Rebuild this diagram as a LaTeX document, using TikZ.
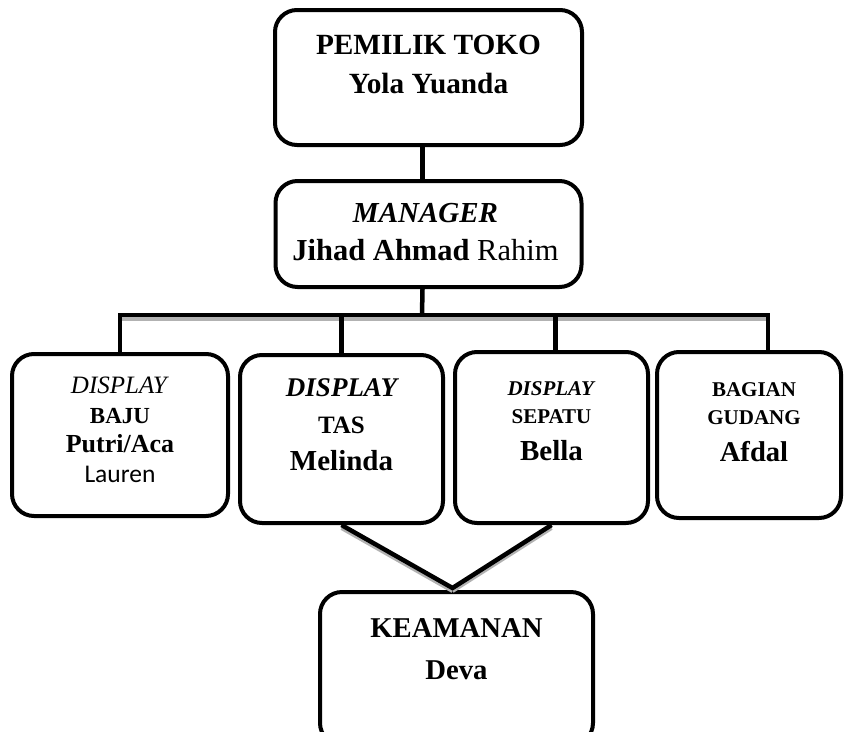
\documentclass[tikz,border=0pt]{standalone}
\usepackage{fontspec}
\setmainfont{Liberation Serif}
\newfontfamily\calibri{Carlito}
\usetikzlibrary{positioning}
\tikzstyle{jabatan}=[
	rectangle,
	rounded corners=22pt,
	line width=4pt,
	draw=black,
	fill=white
]
\tikzstyle{teks}=[
	inner sep=0pt,
	align=center,
	text=black
]
\tikzstyle{garis}=[
	line width=4.5pt,
	draw=black
]
\tikzstyle{bayang}=[
	line width=4pt,
	draw=gray!60
]
\newcommand{\uk}[1]{\fontsize{#1}{#1}\selectfont}

\begin{document}
\begin{tikzpicture}[x=1pt,y=-1pt]
\useasboundingbox[fill=white] (0,0) rectangle (845,731);
% kotak jabatan
\node [jabatan, minimum width=307pt, minimum height=135pt] (pemilik) at (428.5,77.5) {};
\node [jabatan, minimum width=306pt, minimum height=106pt] (manager)[below=32pt of pemilik] {};
\node [jabatan, minimum width=216pt, minimum height=162pt] (baju) at (120,435) {};
\node [jabatan, minimum width=203pt, minimum height=168pt] (tas) at (341.5,439) {};
\node [jabatan, minimum width=193pt, minimum height=171pt] (sepatu) at (551.5,437.5) {};
\node [jabatan, minimum width=184pt, minimum height=166pt] (gudang) at (749,435) {};
\node [jabatan, minimum width=273pt, minimum height=153pt] (keamanan) at (456.5,668.5) {};
% isi teks
\node [teks, font=\fontsize{29.3}{39}\selectfont\bfseries, below=27pt of pemilik.north] (pemilikT)
	{PEMILIK TOKO\\Yola Yuanda};
\node [teks, font=\fontsize{30.5}{38}\selectfont, below=24pt of manager.north, xshift=-3pt] (managerT)
	{{\uk{29}\bfseries\itshape MANAGER}\\\textbf{Jihad Ahmad} Rahim};
\node [teks, font=\fontsize{25}{29.5}\selectfont, below=25pt of baju.north] (bajuT)
	{\textit{DISPLAY}\\{\uk{23}\bfseries BAJU}\\{\uk{26}\bfseries Putri/Aca}\\{\calibri\uk{25.5}Lauren}};
\node [teks, font=\fontsize{27}{37}\selectfont, below=25pt of tas.north] (tasT)
	{{\bfseries\itshape DISPLAY}\\{\uk{25}\bfseries TAS}\\{\uk{29}\bfseries Melinda}};
\node [teks, font=\fontsize{21}{28}\selectfont\bfseries, below=31pt of sepatu.north] (sepatuT)
	{\textit{DISPLAY}\\SEPATU\\[9pt]{\uk{29}Bella}};
\node [teks, font=\fontsize{21}{28}\selectfont\bfseries, below=32pt of gudang.north, xshift=5pt] (gudangT)
	{BAGIAN\\GUDANG\\[9pt]{\uk{28.6}Afdal}};
\node [teks, font=\fontsize{28.7}{42}\selectfont\bfseries, below=28pt of keamanan.north] (keamananT)
	{KEAMANAN\\Deva};
% garis penghubung
\coordinate (bus) at (422,315);
\draw [garis] ([xshift=-6pt]pemilik.south) -- ([xshift=-6pt]manager.north);
\draw [bayang] ([yshift=-4pt]baju.north |- bus) -- ([xshift=19pt,yshift=-4pt]gudang.north |- bus);
\draw [garis] ([xshift=-6pt]manager.south) -- (bus);
\draw [garis] (baju.north) |- ([xshift=19pt]gudang.north |- bus) -- ([xshift=19pt]gudang.north);
\draw [garis] (tas.north) -- (tas.north |- bus);
\draw [garis] ([xshift=4pt]sepatu.north) -- ([xshift=4pt]sepatu.north |- bus);
\draw [bayang] ([yshift=-3pt]tas.south) -- ([xshift=-4pt,yshift=-1pt]keamanan.north);
\draw [bayang] ([yshift=-3pt]sepatu.south) -- ([xshift=-4pt,yshift=-1pt]keamanan.north);
\draw [garis] (tas.south) -- ([xshift=-4pt,yshift=2pt]keamanan.north) -- (sepatu.south);
\end{tikzpicture}
\end{document}
